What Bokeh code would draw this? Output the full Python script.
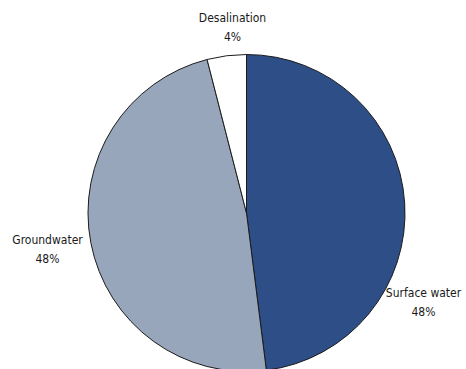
import numpy as np
from bokeh.plotting import figure
from bokeh.models import Range1d, ColumnDataSource
from bokeh.core.properties import value
from bokeh.embed import file_html
from bokeh.resources import INLINE

# Water supply sources, share of total (%)
sources = ["Surface water", "Groundwater", "Desalination"]
shares = [48, 48, 4]
colors = ["#2e4e87", "#97a6bb", "#ffffff"]

W, H = 466, 369
FONT = "'DejaVu Sans Condensed', 'Liberation Sans Narrow', sans-serif"

p = figure(width=W, height=H, output_backend="svg", toolbar_location=None,
           x_range=Range1d(0, W), y_range=Range1d(0, H), min_border=0)
p.axis.visible = False
p.grid.visible = False
p.outline_line_color = None
p.background_fill_color = "white"

# Slices start at 12 o'clock and run clockwise
frac = np.array(shares, dtype=float) / sum(shares)
ends = np.cumsum(frac) * 2 * np.pi
starts = np.concatenate([[0.0], ends[:-1]])
src = ColumnDataSource(dict(
    start=np.pi / 2 - starts,
    end=np.pi / 2 - ends,
    color=colors,
    name=sources,
))

cx, cy, r = 246, H - 212.5, 158.5
p.wedge(x=cx, y=cy, radius=r, start_angle="start", end_angle="end",
        direction="clock", fill_color="color", line_color="#1b1b1b",
        line_width=1, source=src)

# Slice labels: name on top, share below
label_pos = {
    "Surface water": (423, H - 292),
    "Groundwater": (47, H - 239),
    "Desalination": (232, H - 17),
}
for name, share in zip(sources, shares):
    x, y = label_pos[name]
    p.text(x=[x], y=[y], text=[name], text_font=value(FONT),
           text_font_size="12px", text_color="#1a1a1a",
           text_align="center", text_baseline="middle")
    p.text(x=[x], y=[y - 19], text=[f"{share}%"], text_font=value(FONT),
           text_font_size="12px", text_color="#1a1a1a",
           text_align="center", text_baseline="middle")

open("out.html", "w").write(file_html(p, INLINE))
